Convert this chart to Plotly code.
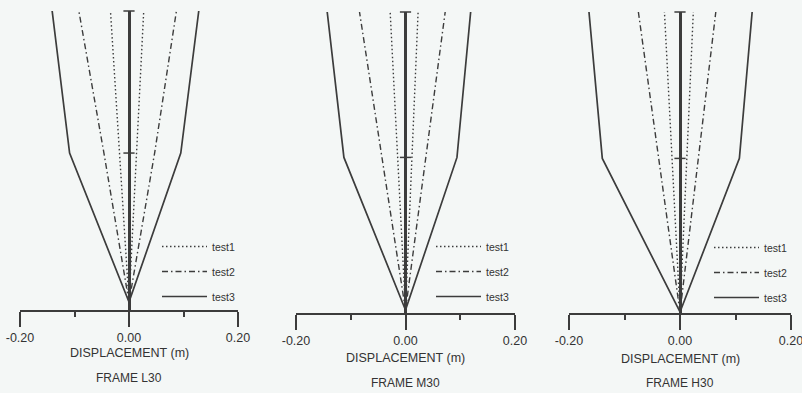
import plotly.graph_objects as go

# ---------------- data ----------------
heights = [0, 15, 29.3]          # storey levels (base, knee, top)
marks = [15, 29.3]               # tick marks on the vertical axis

frames = ["FRAME L30", "FRAME M30", "FRAME H30"]
series = ["test1", "test2", "test3"]

# displacement envelopes (m): left (negative) and right (positive) at each level
L30_test1_left = [0, -0.0175, -0.034]
L30_test1_right = [0, 0.014, 0.027]
L30_test2_left = [0, -0.046, -0.092]
L30_test2_right = [0, 0.047, 0.087]
L30_test3_left = [0, -0.109, -0.141]
L30_test3_right = [0, 0.095, 0.128]

M30_test1_left = [0, -0.015, -0.028]
M30_test1_right = [0, 0.012, 0.023]
M30_test2_left = [0, -0.043, -0.084]
M30_test2_right = [0, 0.037, 0.0725]
M30_test3_left = [0, -0.1125, -0.143]
M30_test3_right = [0, 0.094, 0.119]

H30_test1_left = [0, -0.015, -0.028]
H30_test1_right = [0, 0.0125, 0.024]
H30_test2_left = [0, -0.039, -0.075]
H30_test2_right = [0, 0.033, 0.0645]
H30_test3_left = [0, -0.140, -0.164]
H30_test3_right = [0, 0.107, 0.130]

x_tickvals = [-0.2, 0.0, 0.2]
x_ticktext = ["-0.20", "0.00", "0.20"]
x_minor = [-0.1, 0.1]

panel_data = [
    [(L30_test1_left, L30_test1_right), (L30_test2_left, L30_test2_right), (L30_test3_left, L30_test3_right)],
    [(M30_test1_left, M30_test1_right), (M30_test2_left, M30_test2_right), (M30_test3_left, M30_test3_right)],
    [(H30_test1_left, H30_test1_right), (H30_test2_left, H30_test2_right), (H30_test3_left, H30_test3_right)],
]

# ---------------- layout geometry (pixels of 802x393 page) ----------------
W, H = 802, 393
panels = [
    dict(x0=20, x1=238, top=11, bottom=310, yr=[-0.8, 29.3], leg=(157, 232), lab=(353, 378)),
    dict(x0=296, x1=515, top=12, bottom=313, yr=[-0.3, 29.3], leg=(431, 232), lab=(358, 383)),
    dict(x0=569, x1=791, top=12, bottom=313, yr=[-0.1, 29.3], leg=(709, 233), lab=(359, 383)),
]

INK = "#3c3c3c"
TXT = "#333333"
BG = "#f4f7f6"
FONT = "Liberation Sans, Arial, sans-serif"

styles = [
    dict(dash="1.5px,2.5px", width=1.4),
    dict(dash="6px,3px,1.5px,3px", width=1.4),
    dict(dash="solid", width=1.7),
]

fig = go.Figure()
layout = dict(
    width=W, height=H, margin=dict(l=0, r=0, t=0, b=0, autoexpand=False),
    paper_bgcolor=BG, plot_bgcolor=BG,
    font=dict(family=FONT, color=TXT, size=12),
    annotations=[],
)

for i, p in enumerate(panels):
    sfx = "" if i == 0 else str(i + 1)
    xa, ya = "x" + sfx, "y" + sfx
    legname = "legend" + sfx
    for j, name in enumerate(series):
        left, right = panel_data[i][j]
        fig.add_trace(go.Scatter(
            x=list(left) + [None] + list(right),
            y=list(heights) + [None] + list(heights),
            mode="lines", name=name, xaxis=xa, yaxis=ya,
            line=dict(color=INK, width=styles[j]["width"], dash=styles[j]["dash"]),
            legend=legname, legendgroup=f"{i}-{j}", cliponaxis=False,
        ))
    fig.add_trace(go.Scatter(
        x=[0] * len(marks), y=marks, mode="markers", xaxis=xa, yaxis=ya,
        marker=dict(symbol="line-ew", size=8, line=dict(color=INK, width=1.5)),
        showlegend=False, cliponaxis=False, hoverinfo="skip",
    ))

    layout["xaxis" + sfx] = dict(
        domain=[p["x0"] / W, p["x1"] / W], anchor=ya, range=[-0.2, 0.2],
        showgrid=False, zeroline=True, zerolinecolor=INK, zerolinewidth=2.5,
        showline=True, linecolor=INK, linewidth=2, automargin=False,
        ticks="outside", tickvals=x_tickvals, ticktext=x_ticktext, ticklen=15,
        tickwidth=2, tickcolor=INK, tickfont=dict(size=12.5, color=TXT),
        ticklabeloverflow="allow",
        minor=dict(tickvals=x_minor, ticks="outside", ticklen=5, tickwidth=1.5, tickcolor=INK),
        fixedrange=True,
    )
    layout["yaxis" + sfx] = dict(
        domain=[1 - p["bottom"] / H, 1 - p["top"] / H], anchor=xa, range=p["yr"],
        visible=False, fixedrange=True, automargin=False,
    )
    lx, ly = p["leg"]
    layout[legname] = dict(
        x=lx / W, y=1 - ly / H, xanchor="left", yanchor="top",
        bgcolor="rgba(0,0,0,0)", borderwidth=0, itemwidth=45,
        font=dict(size=10.5, color=TXT, family=FONT), tracegroupgap=6,
    )
    layout["annotations"].append(dict(
        text="DISPLACEMENT (m)", xref=xa, yref="paper", x=0, y=1 - p["lab"][0] / H,
        showarrow=False, font=dict(size=12.5, color=TXT), xanchor="center", yanchor="middle",
    ))
    layout["annotations"].append(dict(
        text=frames[i], xref=xa, yref="paper", x=0, y=1 - p["lab"][1] / H,
        showarrow=False, font=dict(size=12, color=TXT), xanchor="center", yanchor="middle",
    ))

fig.update_layout(**layout)
fig.write_html("out.html")
